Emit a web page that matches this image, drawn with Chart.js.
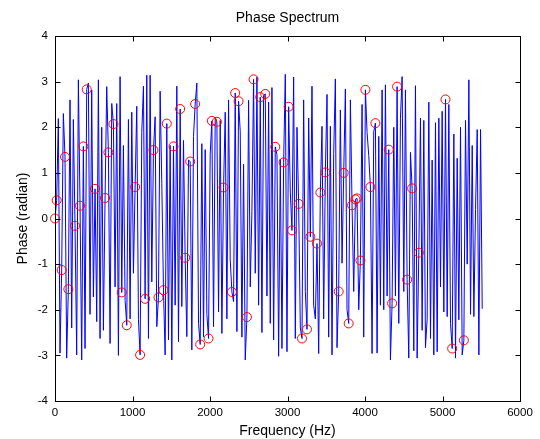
<!DOCTYPE html>
<html lang="en">
<head>
<meta charset="UTF-8">
<title>Phase Spectrum</title>
<script src="https://cdn.jsdelivr.net/npm/chart.js@4.4.3/dist/chart.umd.min.js"></script>
<style>
  body { margin: 0; background: #fff; }
  #wrap { width: 540px; height: 439px; }
</style>
</head>
<body>
<div id="wrap"><canvas id="mychart" width="540" height="439"></canvas></div>
<script>
// FFT bin spacing (fs = 11025 Hz, 512 points)
const binHz = 11025 / 512;

// phase of each bin (radian)
const phase = [
  0, 0.4, 2.19, -2.95, -1.13, 2.3, 1.35, -3.06, -1.55, 2.6,
  -2.4, 2.17, -0.16, -2.99, 3.04, 0.28, -3.1, 1.58, -2.85, 2.83,
  2.97, -2.1, 2.82, -1.72, 0.65, -2.26, 3.04, -2.63, 2.0, -2.45,
  0.45, 2.89, 1.45, -2.74, 2.52, 2.07, -1.5, 2.52, -3.0, 3.11,
  -1.62, 1.6, -1.79, -2.34, 2.17, -2.2, 2.33, -1.2, 0.69, 2.46,
  -2.22, -2.99, 1.89, 2.9, -1.76, 3.14, -2.63, 3.14, -1.39, 1.5,
  2.23, -2.37, -1.73, 2.79, 0.77, -1.57, -2.99, 2.08, -2.66, 1.6,
  -3.1, 1.58, -1.9, 2.9, -2.7, 2.4, -1.93, 1.71, -0.86, -2.59,
  1.28, 1.25, -2.88, 1.8, 2.51, 2.97, -2.3, -2.76, 1.64, -2.59,
  1.51, -2.1, -2.63, 1.41, 2.14, -2.37, 2.21, 2.12, -2.05, 2.15,
  -2.52, 0.68, 2.33, -2.2, 2.6, -0.91, -1.61, -1.82, 2.75, -2.48,
  2.57, 1.9, -2.6, 1.19, -3.1, -2.16, 2.59, -1.5, 0.15, 3.05,
  -1.2, 3.1, -1.9, 2.66, -2.5, 2.7, 2.73, -1.7, 2.55, -2.3,
  2.87, -2.66, 1.57, 1.4, -3.02, 1.3, -2.85, 1.23, 3.16, -2.92,
  2.45, 0.58, -0.26, 3.1, -2.63, 2.0, 0.32, -2.4, -2.63, 2.6,
  -1.6, -2.43, 2.2, -0.4, 2.9, -1.9, -2.2, -0.55, -2.96, 0.57,
  2.02, -2.2, 1.01, 2.72, -2.6, 2.02, -2.99, 1.42, 3.06, -2.83,
  -1.6, 2.38, -0.98, 1.0, 2.84, -2.0, -2.3, 2.6, 0.29, -1.6,
  0.42, 0.44, -2.0, -0.92, 2.5, -2.6, 2.82, 1.89, 1.38, 0.69,
  -2.96, 1.9, 2.09, -2.95, 1.8, -1.9, 2.82, -2.0, 2.93, -1.7,
  1.51, -3.1, -1.86, 2.0, -1.7, 2.89, -2.3, 2.2, 3.11, -1.6,
  2.82, -1.34, -3.06, 1.45, 0.66, -2.9, 2.91, -3.06, -0.75, 2.2,
  -2.45, 2.15, -2.83, -2.2, 2.55, -2.63, 1.28, -2.99, 2.1, -2.92,
  2.2, -1.5, 2.35, -2.05, 2.61, -2.15, 2.5, -2.3, -2.85, 1.85,
  -3.06, 1.32, -2.22, 2.0, -2.99, -2.67, 2.15, -1.0, 3.04, -2.1,
  1.6, -2.15, 0.2, 1.95, -2.99, 1.95, -1.98
];

// bins marked with red circles
const markBins = [
  0, 1, 4, 6, 8, 12, 15, 17, 19, 24, 30, 32, 35, 40, 43, 48, 51, 54, 59, 62,
  65, 67, 71, 75, 78, 81, 84, 87, 92, 94, 97, 101, 106, 108, 110, 115, 119, 123,
  126, 132, 137, 140, 142, 146, 148, 151, 153, 157, 159, 162, 170, 173, 176, 178,
  180, 181, 183, 186, 189, 192, 200, 202, 205, 211, 214, 218, 234, 238, 245
];

const xTicks = [0, 1000, 2000, 3000, 4000, 5000, 6000];
const yTicks = [-4, -3, -2, -1, 0, 1, 2, 3, 4];

const linePts = phase.map((p, i) => ({ x: i * binHz, y: p }));
const markPts = markBins.map(b => ({ x: b * binHz, y: phase[b] }));

const family = "'Liberation Sans', Arial, sans-serif";
const tickFont = { family: family, size: 11.5 };
const labelFont = { family: family, size: 14 };

// MATLAB style box with inward ticks
const axesBox = {
  id: 'axesBox',
  afterDraw(chart) {
    const { ctx, chartArea: a, scales } = chart;
    const L = Math.round(a.left) + 0.5, R = Math.round(a.right) + 0.5;
    const T = Math.round(a.top) + 0.5, B = Math.round(a.bottom) + 0.5;
    const len = 5;
    ctx.save();
    ctx.strokeStyle = '#000';
    ctx.lineWidth = 1;
    ctx.strokeRect(L, T, R - L, B - T);
    ctx.beginPath();
    xTicks.forEach(v => {
      const x = Math.round(scales.x.getPixelForValue(v)) + 0.5;
      ctx.moveTo(x, B); ctx.lineTo(x, B - len);
      ctx.moveTo(x, T); ctx.lineTo(x, T + len);
    });
    yTicks.forEach(v => {
      const y = Math.round(scales.y.getPixelForValue(v)) + 0.5;
      ctx.moveTo(L, y); ctx.lineTo(L + len, y);
      ctx.moveTo(R, y); ctx.lineTo(R - len, y);
    });
    ctx.stroke();
    ctx.restore();
  }
};

new Chart(document.getElementById('mychart'), {
  type: 'line',
  data: {
    datasets: [
      {
        label: 'markers',
        data: markPts,
        showLine: false,
        pointStyle: 'circle',
        pointRadius: 4.5,
        pointBorderColor: 'rgb(255,0,0)',
        pointBackgroundColor: 'rgba(0,0,0,0)',
        pointBorderWidth: 1,
        clip: false
      },
      {
        label: 'phase',
        data: linePts,
        borderColor: 'rgb(0,0,255)',
        borderWidth: 1,
        pointRadius: 0,
        tension: 0,
        fill: false
      }
    ]
  },
  options: {
    responsive: false,
    animation: false,
    layout: { padding: { top: 0, right: 20, left: 0, bottom: 0 } },
    plugins: {
      legend: { display: false },
      tooltip: { enabled: false },
      title: {
        display: true,
        fullSize: false,
        text: 'Phase Spectrum',
        color: '#000',
        font: { family: family, size: 14, weight: 'normal' },
        padding: { top: 9.6, bottom: 9.6 }
      }
    },
    scales: {
      x: {
        type: 'linear',
        min: 0,
        max: 6000,
        afterBuildTicks: s => { s.ticks = xTicks.map(v => ({ value: v })); },
        afterFit: s => { s.height = 38; },
        grid: { display: false, drawTicks: false },
        border: { display: false },
        ticks: { color: '#000', font: tickFont, padding: 5, maxRotation: 0, autoSkip: false, callback: v => String(v) },
        title: { display: true, text: 'Frequency (Hz)', color: '#000', font: labelFont, padding: { top: 0, bottom: -1 } }
      },
      y: {
        type: 'linear',
        min: -4,
        max: 4,
        afterBuildTicks: s => { s.ticks = yTicks.map(v => ({ value: v })); },
        afterFit: s => { s.width = 55; },
        grid: { display: false, drawTicks: false },
        border: { display: false },
        ticks: { color: '#000', font: tickFont, padding: 7, autoSkip: false, callback: v => String(v) },
        title: { display: true, text: 'Phase (radian)', color: '#000', font: labelFont, padding: { top: 14.5, bottom: 0 } }
      }
    }
  },
  plugins: [axesBox]
});
</script>
</body>
</html>
